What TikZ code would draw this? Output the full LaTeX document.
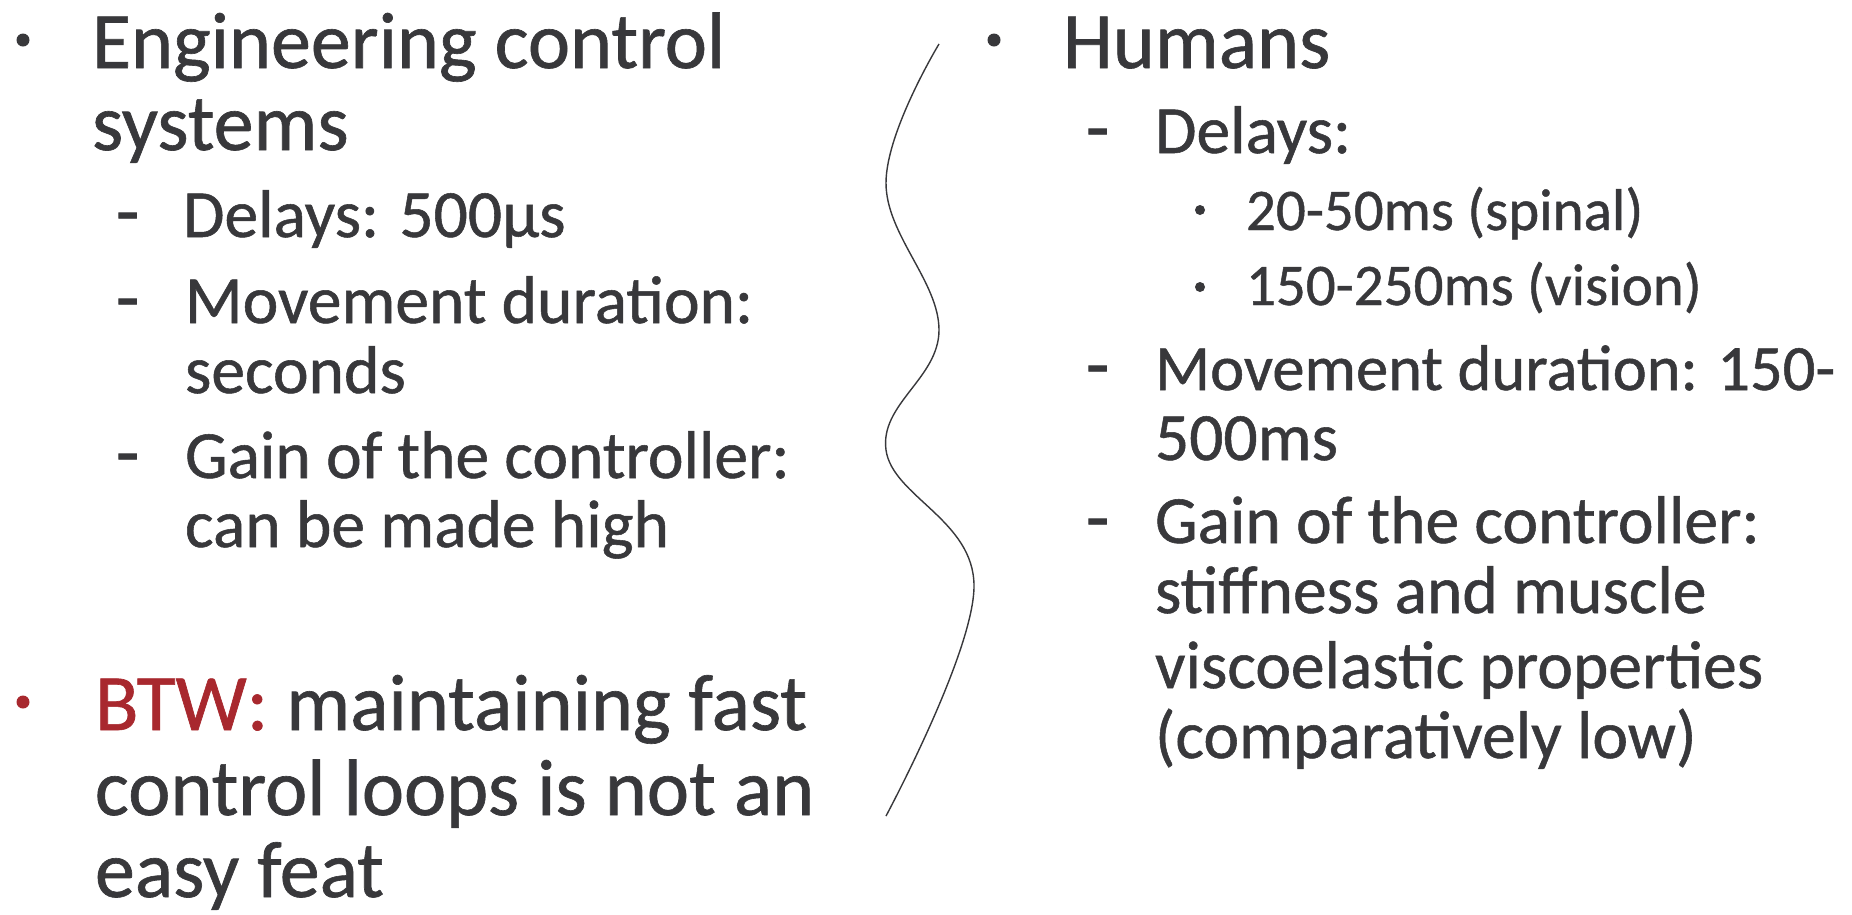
\documentclass[tikz,border=0pt]{standalone}
\usepackage{fontspec}
\setmainfont{Carlito}[FakeBold=0.8]
\definecolor{txt}{HTML}{38383B}
\definecolor{btw}{HTML}{A8282E}
\begin{document}
\begin{tikzpicture}[x=1pt,y=-1pt,
  every node/.style={inner sep=0pt,outer sep=0pt,text=txt},
  lone/.style={anchor=base west,font=\fontsize{80}{88}\selectfont},
  ltwo/.style={anchor=base west,font=\fontsize{67.5}{72}\selectfont},
  lthree/.style={anchor=base west,font=\fontsize{59}{62}\selectfont},
  dashmark/.style={anchor=base west,font=\fontsize{76}{80}\selectfont}]
\fill[white] (0,0) rectangle (1852,914);
\useasboundingbox (0,0) rectangle (1852,914);
% left column
\coordinate (b1) at (23,40);
\fill[txt] (b1) circle[radius=6.5];
\node[lone] (t1) at (92,68) {Engineering control};
\node[lone] (t2) at (92,150) {systems};
\node[dashmark] (d1) at (116,237) {-};
\node[ltwo] (t3) at (183,237) {Delays: 500µs};
\node[dashmark] (d2) at (116,323) {-};
\node[ltwo] (t4) at (185,323) {Movement duration:};
\node[ltwo] (t5) at (185,393) {seconds};
\node[dashmark] (d3) at (116,478) {-};
\node[ltwo] (t6) at (185,478) {Gain of the controller:};
\node[ltwo] (t7) at (185,547) {can be made high};
\coordinate (b2) at (23,702);
\fill[btw] (b2) circle[radius=6.5];
\node[lone] (t8) at (95,730) {\textcolor{btw}{BTW:} maintaining fast};
\node[lone] (t9) at (95,815) {control loops is not an};
\node[lone] (t10) at (95,897) {easy feat};
% separator
\draw[txt,line width=1.4pt] plot[smooth,tension=0.65] coordinates {(939,44) (886,183) (939,330) (886,450) (974,586) (886,816)};
% right column
\coordinate (b3) at (994,40);
\fill[txt] (b3) circle[radius=6.5];
\node[lone] (r1) at (1063,68) {Humans};
\node[dashmark] (e1) at (1086,153) {-};
\node[ltwo] (r2) at (1155,153) {Delays:};
\coordinate (s1) at (1200,210);
\fill[txt] (s1) circle[radius=5];
\node[lthree] (r3) at (1246,230) {20-50ms (spinal)};
\coordinate (s2) at (1200,287);
\fill[txt] (s2) circle[radius=5];
\node[lthree] (r4) at (1246,305) {150-250ms (vision)};
\node[dashmark] (e2) at (1086,390) {-};
\node[ltwo,font=\fontsize{64.5}{70}\selectfont] (r5) at (1155,390) {Movement duration: 150-};
\node[ltwo] (r6) at (1155,460) {500ms};
\node[dashmark] (e3) at (1086,543) {-};
\node[ltwo] (r7) at (1155,543) {Gain of the controller:};
\node[ltwo] (r8) at (1155,613) {stiffness and muscle};
\node[ltwo] (r9) at (1155,688) {viscoelastic properties};
\node[ltwo] (r10) at (1155,758) {(comparatively low)};
\end{tikzpicture}
\end{document}
